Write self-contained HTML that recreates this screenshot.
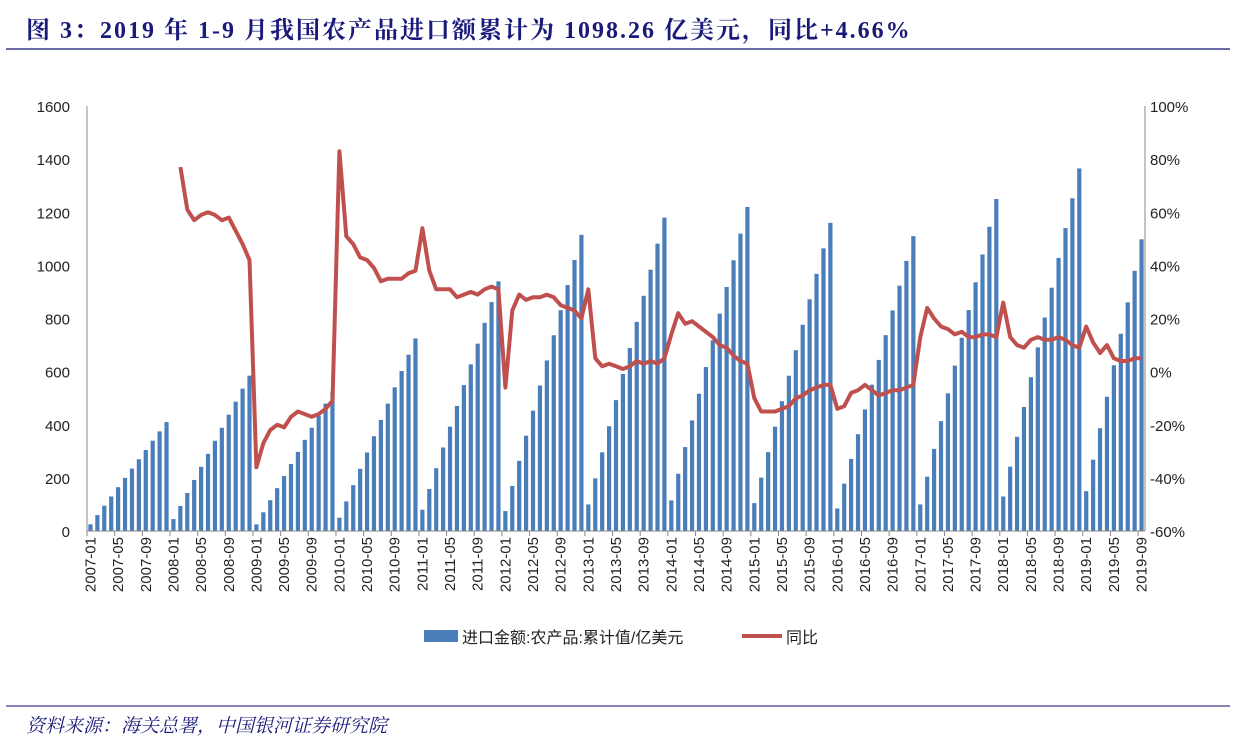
<!DOCTYPE html>
<html><head><meta charset="utf-8">
<style>
body{margin:0;background:#fff;width:1237px;height:754px;overflow:hidden;font-family:"Liberation Sans","Noto Sans CJK SC",sans-serif}
.t{position:absolute;left:26px;top:10px;font-family:"Liberation Serif","Noto Serif CJK SC",serif;font-weight:bold;font-size:24px;letter-spacing:2px;color:#1a1a7a;white-space:nowrap}
</style></head><body>
<div class="t">图 3：2019 年 1-9 月我国农产品进口额累计为 1098.26 亿美元，同比+4.66%</div>
<svg id="s" width="1237" height="754" style="position:absolute;left:0;top:0">
<line x1="6" y1="49" x2="1230" y2="49" stroke="#3a3a8a" stroke-width="1.5"/>
<line x1="6" y1="706" x2="1230" y2="706" stroke="#3a3a8a" stroke-width="1.2"/>
<text x="26" y="732" font-family="Liberation Serif,Noto Serif CJK SC,serif" font-style="italic" font-size="19" fill="#1a1a7a">资料来源：海关总署，中国银河证券研究院</text>
</svg>
<script>
(function(){
var s=document.getElementById('s'),NS='http://www.w3.org/2000/svg';
function el(n,a,t){var e=document.createElementNS(NS,n);for(var k in a)e.setAttribute(k,a[k]);if(t!=null)e.textContent=t;s.appendChild(e);return e;}
var x0=87,x1=1145,N=153,w=(x1-x0)/N,y0=531,yt=106,H=y0-yt;
function yv(v){return y0-v/1600*H}
function yp(p){return y0-(p+60)/160*H}
for(var i=0;i<=8;i++){var v=i*200;el('text',{x:70,y:yv(v)+6,'text-anchor':'end','font-size':15,fill:'#222'},v);}
for(var i=0;i<=8;i++){var p=-60+i*20;el('text',{x:1150,y:yp(p)+6,'font-size':15,fill:'#222'},p+'%');}
var J=[25,45,25,50,80,75,100,115,105,85,100,130,150],D=[410,585,525,725,940,1115,1180,1220,1160,1110,1250,1365,0];
D[12]=150+(1098-150)/8*11;
for(var i=0;i<N;i++){var y=Math.floor(i/12),m=i%12;var v=J[y]+(D[y]-J[y])*m/11;
var cx=x0+w*(i+0.5);el('rect',{x:cx-2.1,y:yv(v),width:4.2,height:y0-yv(v),fill:'#4a7ebb'});}
el('line',{x1:x0,y1:yt,x2:x0,y2:y0,stroke:'#888'});
el('line',{x1:1145,y1:yt,x2:1145,y2:y0,stroke:'#888'});
el('line',{x1:x0,y1:y0,x2:x1,y2:y0,stroke:'#888'});
for(var i=0;i<N;i+=4){var xx=x0+w*i;el('line',{x1:xx,y1:y0,x2:xx,y2:y0+5,stroke:'#888'});
var y=2007+Math.floor(i/12),m=i%12+1;var lab=y+'-'+(m<10?'0':'')+m;var cx=x0+w*(i+0.5)+5;
el('text',{x:0,y:0,'font-size':15,fill:'#222','text-anchor':'end',transform:'translate('+cx+','+(y0+6)+') rotate(-90)'},lab);}
var P=[77,61,57,59,60,59,57,58,53,48,42,
-36,-27,-22,-20,-21,-17,-15,-16,-17,-16,-14,-11,
83,51,48,43,42,39,34,35,35,35,37,38,
54,38,31,31,31,28,29,30,29,31,32,31,
-6,23,29,27,28,28,29,28,25,24,23,20,
31,5,2,3,2,1,2,4,3,4,3,5,
14,22,18,19,17,15,13,10,9,6,4,3,
-10,-15,-15,-15,-14,-13,-10,-9,-7,-6,-5,-5,
-14,-13,-8,-7,-5,-7,-9,-8,-7,-7,-6,-5,
13,24,20,17,16,14,15,13,13,14,14,13,
26,13,10,9,12,13,12,12,13,12,10,9,
17,11,7,10,5,4,4,5,5];
var pts=[];for(var k=0;k<P.length;k++){var i=13+k;pts.push((x0+w*(i+0.5)).toFixed(1)+','+yp(P[k]).toFixed(1));}
el('polyline',{points:pts.join(' '),fill:'none',stroke:'#c0504d','stroke-width':4,'stroke-linejoin':'round'});
el('rect',{x:424,y:630,width:34,height:12,fill:'#4a7ebb'});
el('text',{x:462,y:643,'font-size':16,fill:'#222'},'进口金额:农产品:累计值/亿美元');
el('line',{x1:742,y1:636,x2:782,y2:636,stroke:'#c0504d','stroke-width':4});
el('text',{x:786,y:643,'font-size':16,fill:'#222'},'同比');
})();
</script>
</body></html>
